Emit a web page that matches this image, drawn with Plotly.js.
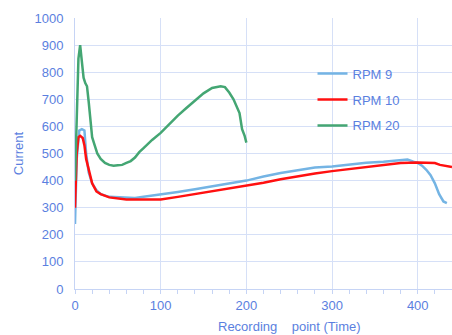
<!DOCTYPE html>
<html>
<head>
<meta charset="utf-8">
<script src="https://cdn.plot.ly/plotly-3.0.1.min.js"></script>
<style>html,body{margin:0;padding:0;background:#fff;}#chart{width:452px;height:335px;}</style>
</head>
<body>
<div id="chart"></div>
<script>
// RPM 9
const rpm9X = [0,2,5,8,11,13,16,20,25,30,40,50,60,70,80,90,100,120,140,160,180,200,220,240,260,280,300,320,340,360,380,388,395,400,405,410,415,420,425,430,434];
const rpm9Y = [240,480,585,590,585,500,430,390,365,350,340,338,336,336,340,344,348,358,368,378,390,400,415,428,438,448,452,460,466,470,474,478,470,465,455,440,420,390,350,323,317];
// RPM 10
const rpm10X = [0,2,4,6,9,11,13,16,20,25,30,40,50,60,70,80,90,100,120,140,160,180,200,220,240,260,280,300,320,340,360,380,400,420,426,430,440];
const rpm10Y = [300,500,560,565,557,530,480,440,390,360,350,338,334,330,330,330,330,330,340,350,360,370,380,392,405,416,426,435,443,450,458,465,467,465,458,455,450];
// RPM 20
const rpm20X = [0,2,4,6,8,10,12,14,16,18,20,23,26,30,35,40,45,50,55,60,65,70,75,80,85,90,100,110,120,130,140,150,160,165,170,175,180,185,188,192,195,198,200];
const rpm20Y = [400,650,850,900,840,780,760,748,690,630,560,530,500,480,465,458,455,457,458,465,472,485,505,520,535,550,576,610,640,668,695,722,742,746,748,745,725,700,675,649,590,565,540];

const seriesNames = ["RPM 9", "RPM 10", "RPM 20"];
const xTitle = "Recording\u00a0\u00a0\u00a0\u00a0point (Time)";
const yTitle = "Current";

const txt = "#5b7fe0";
const grid = "#d6e0f7";
const font = {family: "Liberation Sans, Arial, sans-serif", size: 13, color: txt};

const traces = [
  {x: rpm9X, y: rpm9Y, name: seriesNames[0], legendgroup: "a", line: {color: "#74b4e4", width: 2.5}},
  {x: rpm10X, y: rpm10Y, name: seriesNames[1], legendgroup: "b", line: {color: "#ff1010", width: 2.5}},
  {x: rpm20X, y: rpm20Y, name: seriesNames[2], legendgroup: "c", line: {color: "#44a673", width: 2.5}}
].map(t => Object.assign({type: "scatter", mode: "lines"}, t));

const layout = {
  width: 452, height: 335,
  margin: {l: 75, r: 0, t: 18, b: 46},
  paper_bgcolor: "#fff", plot_bgcolor: "#fff",
  font: font,
  showlegend: true,
  legend: {x: 0.63, y: 0.85, xanchor: "left", yanchor: "top", tracegroupgap: 6,
           font: font, bgcolor: "rgba(0,0,0,0)"},
  xaxis: {range: [0, 440], dtick: 100, tick0: 0, showgrid: true, gridcolor: grid,
          zeroline: false, showline: true, linecolor: "#c6d4f5", linewidth: 1,
          ticks: "outside", ticklen: 4, tickcolor: "#c6d4f5",
          minor: {dtick: 20, ticks: "outside", ticklen: 4, tickcolor: "#c6d4f5", showgrid: false},
          tickfont: font, fixedrange: true},
  yaxis: {range: [0, 1000], dtick: 100, showgrid: true, gridcolor: grid,
          zeroline: false, showline: true, linecolor: "#c6d4f5",
          ticks: "", ticklabelstandoff: 8, tickfont: font,
          title: {text: yTitle, font: font, standoff: 7}, fixedrange: true},
  annotations: [{text: xTitle, xref: "paper", yref: "paper", x: 0.568, y: -0.14,
                 xanchor: "center", yanchor: "middle", showarrow: false, font: font}]
};

Plotly.newPlot("chart", traces, layout, {displayModeBar: false, staticPlot: true});
</script>
</body>
</html>
